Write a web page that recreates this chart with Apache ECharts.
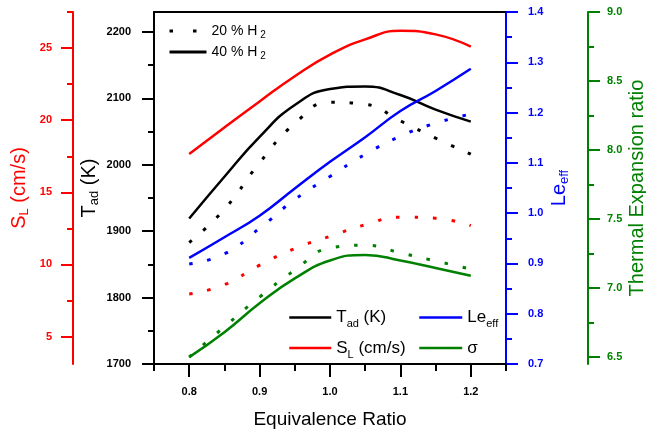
<!DOCTYPE html>
<html><head><meta charset="utf-8">
<script src="https://cdn.jsdelivr.net/npm/echarts@6/dist/echarts.min.js"></script>
<style>html,body{margin:0;padding:0;background:#fff}#c{width:646px;height:435px}</style>
</head><body><div id="c"></div>
<script>
// ---- data ----
const phi = [0.8, 0.85, 0.9, 0.95, 1.0, 1.05, 1.1, 1.15, 1.2];
const tad40 = [1919, 1982, 2042, 2090, 2114, 2118, 2105, 2083, 2065];
const tad20 = [1883, 1933, 2003, 2062, 2094, 2091, 2066, 2040, 2016];
const sl40 = [17.65, 19.5, 21.3, 23.05, 24.55, 25.6, 26.2, 25.95, 25.1];
const sl20 = [7.95, 8.6, 9.95, 11.1, 11.95, 12.75, 13.28, 13.2, 12.7];
const le40 = [0.911, 0.952, 0.995, 1.049, 1.102, 1.151, 1.203, 1.243, 1.287];
const le20 = [0.899, 0.919, 0.970, 1.027, 1.073, 1.117, 1.153, 1.179, 1.197];
const sig40 = [6.50, 6.68, 6.89, 7.07, 7.20, 7.24, 7.20, 7.146, 7.09];
const sig20 = [6.50, 6.72, 6.935, 7.13, 7.29, 7.31, 7.255, 7.196, 7.138];

// ---- tick labels ----
const xTicks = [0.8, 0.9, 1.0, 1.1, 1.2];
const xMinorTicks = [0.75, 0.85, 0.95, 1.05, 1.15, 1.25];
const tadTicks = [1700, 1800, 1900, 2000, 2100, 2200];
const tadMinorTicks = [1750, 1850, 1950, 2050, 2150];
const slTicks = [5, 10, 15, 20, 25];
const slMinorTicks = [7.5, 12.5, 17.5, 22.5, 27.5];
const leTicks = [0.7, 0.8, 0.9, 1.0, 1.1, 1.2, 1.3, 1.4];
const leMinorTicks = [0.75, 0.85, 0.95, 1.05, 1.15, 1.25, 1.35];
const sigTicks = [6.5, 7.0, 7.5, 8.0, 8.5, 9.0];
const sigMinorTicks = [6.75, 7.25, 7.75, 8.25, 8.75];

const FONT = "'Liberation Sans', Arial, sans-serif";
const BLACK = '#000000', RED = '#ff0000', BLUE = '#0000ff', GREEN = '#008000';
const DOT = [3.5, 15];

function pairs(ys) { return phi.map((x, i) => [x, ys[i]]); }
function rich(color, big, small, lh) {
  return {
    m: { fontSize: big, color: color, fontFamily: FONT, lineHeight: lh },
    s: { fontSize: small, color: color, fontFamily: FONT, verticalAlign: 'bottom', lineHeight: small }
  };
}
function yAxes(o) {
  const major = {
    type: 'value', gridIndex: 0, position: o.position, offset: o.offset, min: o.min, max: o.max,
    axisLine: { show: true, onZero: false, lineStyle: { color: o.color, width: 2 } },
    axisTick: { show: true, inside: false, customValues: o.ticks, length: 12, lineStyle: { color: o.color, width: 2 } },
    axisLabel: { show: true, customValues: o.ticks, margin: o.margin, color: o.color, fontWeight: 'bold', fontSize: 11, fontFamily: FONT, formatter: o.fmt },
    splitLine: { show: false },
    name: o.name, nameLocation: 'middle', nameGap: o.nameGap, nameRotate: 90, nameMoveOverlap: false,
    nameTextStyle: { color: o.color, fontFamily: FONT, fontSize: 20, rich: rich(o.color, 20, 13, 24) }
  };
  const minor = {
    type: 'value', gridIndex: 0, position: o.position, offset: o.offset, min: o.min, max: o.max,
    axisLine: { show: false },
    axisTick: { show: true, inside: false, customValues: o.minor, length: 6, lineStyle: { color: o.color, width: 2 } },
    axisLabel: { show: false }, splitLine: { show: false }
  };
  return [major, minor];
}

const yAxis = [].concat(
  yAxes({ position: 'left', offset: 0, min: 1700, max: 2230, color: BLACK, ticks: tadTicks, minor: tadMinorTicks, margin: 23,
          fmt: v => String(Math.round(v)), name: '{m|T}{s|ad}{m| (K)}', nameGap: 53 }),
  yAxes({ position: 'left', offset: 81, min: 3.1, max: 27.5, color: RED, ticks: slTicks, minor: slMinorTicks, margin: 21,
          fmt: v => String(Math.round(v)), name: '{m|S}{s|L}{m| (cm/s)}', nameGap: 42 }),
  yAxes({ position: 'right', offset: 0, min: 0.7, max: 1.4, color: BLUE, ticks: leTicks, minor: leMinorTicks, margin: 22,
          fmt: v => v.toFixed(1), name: '{m|Le}{s|eff}', nameGap: 41 }),
  yAxes({ position: 'right', offset: 82, min: 6.45, max: 9.0, color: GREEN, ticks: sigTicks, minor: sigMinorTicks, margin: 19,
          fmt: v => v.toFixed(1), name: '{m|Thermal Expansion ratio}', nameGap: 37 })
);

const xAxis = [
  { type: 'value', gridIndex: 0, position: 'bottom', min: 0.75, max: 1.25,
    axisLine: { show: true, onZero: false, lineStyle: { color: BLACK, width: 2 } },
    axisTick: { show: true, inside: false, customValues: xTicks, length: 13, lineStyle: { color: BLACK, width: 2 } },
    axisLabel: { show: true, customValues: xTicks, margin: 22, color: BLACK, fontWeight: 'bold', fontSize: 11, fontFamily: FONT, formatter: v => v.toFixed(1) },
    splitLine: { show: false },
    name: 'Equivalence Ratio', nameLocation: 'middle', nameGap: 46, nameMoveOverlap: false,
    nameTextStyle: { color: BLACK, fontSize: 19, fontFamily: FONT } },
  { type: 'value', gridIndex: 0, position: 'bottom', min: 0.75, max: 1.25,
    axisLine: { show: false },
    axisTick: { show: true, inside: false, customValues: xMinorTicks, length: 7, lineStyle: { color: BLACK, width: 2 } },
    axisLabel: { show: false }, splitLine: { show: false } },
  { type: 'value', gridIndex: 0, position: 'top', min: 0.75, max: 1.25,
    axisLine: { show: true, onZero: false, lineStyle: { color: BLACK, width: 2 } },
    axisTick: { show: false }, axisLabel: { show: false }, splitLine: { show: false } }
];

function line(name, ys, yIdx, color, dotted) {
  return {
    type: 'line', name: name, data: pairs(ys), xAxisIndex: 0, yAxisIndex: yIdx,
    smooth: true, symbol: 'none', showSymbol: false,
    lineStyle: { color: color, width: dotted ? 3 : 2.5, type: dotted ? DOT : 'solid' },
    itemStyle: { color: color }
  };
}

const series = [
  line('Tad', tad40, 0, BLACK, false),
  line('Tad 20', tad20, 0, BLACK, true),
  line('SL', sl40, 2, RED, false),
  line('SL 20', sl20, 2, RED, true),
  line('Le', le40, 4, BLUE, false),
  line('Le 20', le20, 4, BLUE, true),
  line('sigma', sig40, 6, GREEN, false),
  line('sigma 20', sig20, 6, GREEN, true),
  { type: 'line', name: '20 % H2', data: [], symbol: 'none', lineStyle: { color: BLACK, width: 3, type: [3.5, 20] }, itemStyle: { color: BLACK } },
  { type: 'line', name: '40 % H2', data: [], symbol: 'none', lineStyle: { color: BLACK, width: 2.5, type: 'solid' }, itemStyle: { color: BLACK } }
];

const legendLabels = {
  '20 % H2': '{m|20 % H}{s| 2}',
  '40 % H2': '{m|40 % H}{s| 2}',
  'Tad': '{m|T}{s|ad}{m| (K)}',
  'SL': '{m|S}{s|L}{m| (cm/s)}',
  'Le': '{m|Le}{s|eff}',
  'sigma': '{m|σ}'
};

const legend = [
  { data: [{ name: '20 % H2', lineStyle: { type: [3.5, 20], width: 3 } }, { name: '40 % H2' }],
    orient: 'vertical', left: 163, top: 19, itemWidth: 37, itemHeight: 14, itemGap: 5,
    selectedMode: false, formatter: n => legendLabels[n], lineStyle: { width: 3 }, itemStyle: { opacity: 0 },
    textStyle: { color: BLACK, fontSize: 14, fontFamily: FONT, rich: rich(BLACK, 14, 10, 18) } },
  { data: ['Tad', 'SL'], orient: 'vertical', left: 283, top: 304, itemWidth: 42, itemHeight: 14, itemGap: 10,
    selectedMode: false, formatter: n => legendLabels[n], lineStyle: { width: 2.5 }, itemStyle: { opacity: 0 },
    textStyle: { color: BLACK, fontSize: 17, fontFamily: FONT, rich: rich(BLACK, 17, 11, 24) } },
  { data: ['Le', 'sigma'], orient: 'vertical', left: 413, top: 304, itemWidth: 43, itemHeight: 14, itemGap: 10,
    selectedMode: false, formatter: n => legendLabels[n], lineStyle: { width: 2.5 }, itemStyle: { opacity: 0 },
    textStyle: { color: BLACK, fontSize: 17, fontFamily: FONT, rich: rich(BLACK, 17, 11, 24) } }
];

const chart = echarts.init(document.getElementById('c'), null, { renderer: 'canvas' });
chart.setOption({
  animation: false,
  backgroundColor: '#ffffff',
  textStyle: { fontFamily: FONT },
  grid: { left: 154, right: 140, top: 12, bottom: 71, containLabel: false, outerBoundsMode: 'none' },
  xAxis: xAxis,
  yAxis: yAxis,
  legend: legend,
  series: series
});
</script>
</body></html>
